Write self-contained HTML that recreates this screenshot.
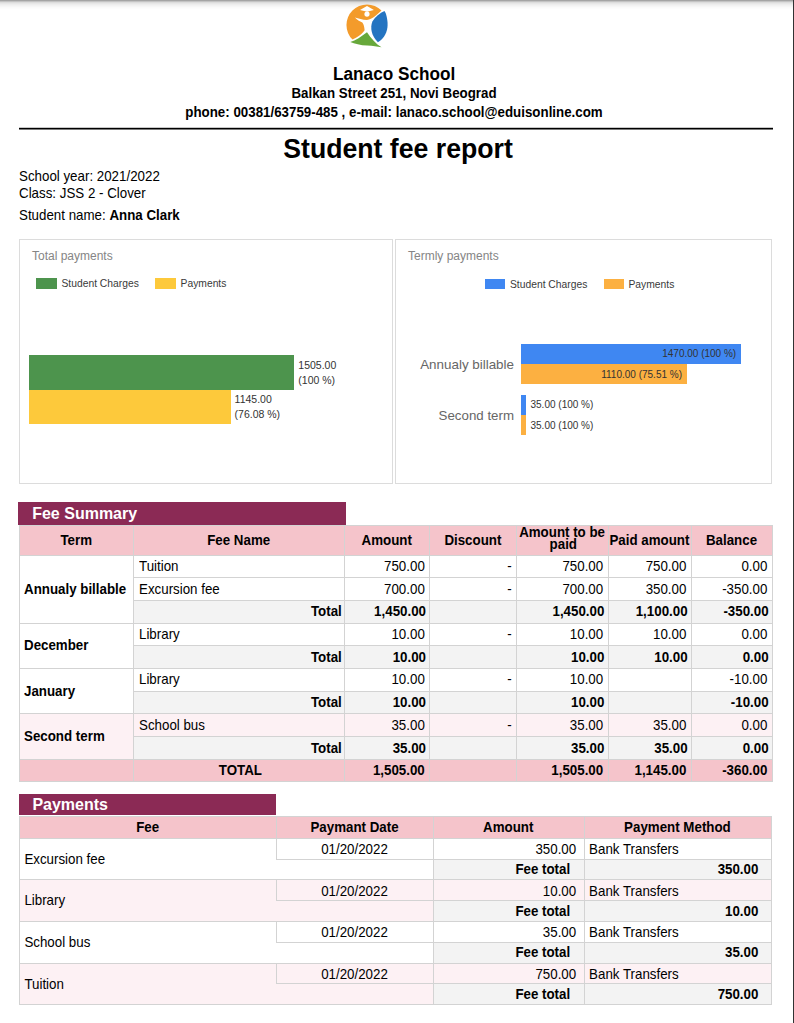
<!DOCTYPE html>
<html><head><meta charset="utf-8"><title>Student fee report</title>
<style>
html,body{margin:0;padding:0;}
body{width:794px;height:1023px;position:relative;overflow:hidden;background:#fff;font-family:"Liberation Sans", sans-serif;color:#000;}
b{font-weight:700;}
</style></head><body>
<div style="position:absolute;left:0px;top:0px;width:793px;height:1px;background:#a4a4a4;"></div>
<div style="position:absolute;left:0px;top:1px;width:793px;height:1px;background:#c3c3c3;"></div>
<div style="position:absolute;left:0px;top:2px;width:793px;height:1px;background:#dcdcdc;"></div>
<div style="position:absolute;left:0px;top:3px;width:793px;height:1px;background:#e6e6e6;"></div>
<div style="position:absolute;left:0px;top:4px;width:793px;height:1px;background:#ededed;"></div>
<div style="position:absolute;left:0px;top:5px;width:793px;height:1px;background:#f2f2f2;"></div>
<div style="position:absolute;left:0px;top:6px;width:793px;height:1px;background:#f6f6f6;"></div>
<div style="position:absolute;left:0px;top:7px;width:793px;height:1px;background:#fafafa;"></div>
<div style="position:absolute;left:0px;top:8px;width:793px;height:1px;background:#fcfcfc;"></div>
<div style="position:absolute;left:0px;top:9px;width:793px;height:1px;background:#fefefe;"></div>
<div style="position:absolute;left:793px;top:0px;width:1px;height:1023px;background:#313233;"></div>
<svg style="position:absolute;left:340px;top:0px" width="55" height="50" viewBox="0 0 55 50">
<path d="M41.5,10.5 A20.4,20.4 0 1 0 12.5,39.6 L16,37.8 C20,35.3 22.8,33 24.6,30.2 C24.3,27 23.8,24.5 22.3,22.6 C19.8,21.2 16.8,19.6 14.9,17.4 C18.5,18.6 22.5,19.6 27,19.9 C32.5,19.6 37.2,14.3 41.5,10.5 Z" fill="#f39b2b"/>
<path d="M44.5,11.1 C46.4,14 47.6,19.5 47.6,25 C47.6,32 44.2,38.4 37.9,42.2 C31.6,36.5 29.8,27.8 32.4,21.6 C35.4,16.6 39.8,13.2 44.5,11.1 Z" fill="#2474c1"/>
<path d="M10.3,41.9 C15.5,40.4 21.5,36.5 27,32.2 C31,38.3 36,44 41.5,47.2 C37,46.6 33,46 27.2,45.6 C20.5,45.3 14.5,43.3 10.3,41.9 Z" fill="#67a83b"/>
<circle cx="27" cy="14.1" r="2.6" fill="#fff"/>
<path d="M20,10.1 L27,5.9 L33.9,9.9 L27.1,11.8 Z" fill="#fff"/>
</svg>
<div style="position:absolute;left:94.20px;width:600px;text-align:center;top:65.94px;white-space:nowrap;line-height:17.2px;font-size:17.2px;transform:scaleY(1.05);transform-origin:0 14.56px;font-weight:700;">Lanaco School</div>
<div style="position:absolute;left:94.00px;width:600px;text-align:center;top:87.22px;white-space:nowrap;line-height:13.33px;font-size:13.33px;transform:scaleY(1.05);transform-origin:0 11.28px;font-weight:700;">Balkan Street 251, Novi Beograd</div>
<div style="position:absolute;left:94.00px;width:600px;text-align:center;top:106.22px;white-space:nowrap;line-height:13.33px;font-size:13.33px;transform:scaleY(1.05);transform-origin:0 11.28px;font-weight:700;">phone: 00381/63759-485 , e-mail: lanaco.school@eduisonline.com</div>
<div style="position:absolute;left:19px;top:127px;width:754px;height:1px;background:#c8c8c8;"></div>
<div style="position:absolute;left:19px;top:128px;width:754px;height:1px;background:#000;"></div>
<div style="position:absolute;left:19px;top:129px;width:754px;height:1px;background:#7a7a7a;"></div>
<div style="position:absolute;left:98.00px;width:600px;text-align:center;top:136.02px;white-space:nowrap;line-height:26.67px;font-size:26.67px;transform:scaleY(1.05);transform-origin:0 22.58px;font-weight:700;">Student fee report</div>
<div style="position:absolute;left:19.00px;top:169.92px;white-space:nowrap;line-height:13.33px;font-size:13.33px;transform:scaleY(1.05);transform-origin:0 11.28px;">School year: 2021/2022</div>
<div style="position:absolute;left:19.00px;top:187.12px;white-space:nowrap;line-height:13.33px;font-size:13.33px;transform:scaleY(1.05);transform-origin:0 11.28px;">Class: JSS 2 - Clover</div>
<div style="position:absolute;left:19.00px;top:209.42px;white-space:nowrap;line-height:13.33px;font-size:13.33px;transform:scaleY(1.05);transform-origin:0 11.28px;">Student name: <b>Anna Clark</b></div>
<div style="position:absolute;left:19px;top:239px;width:372px;height:243px;border:1px solid #dcdcdc"></div>
<div style="position:absolute;left:395px;top:239px;width:375px;height:243px;border:1px solid #dcdcdc"></div>
<div style="position:absolute;left:32.00px;top:249.54px;white-space:nowrap;line-height:12px;font-size:12px;color:#858585;">Total payments</div>
<div style="position:absolute;left:36px;top:278.3px;width:21px;height:10.5px;background:#4d944d;"></div>
<div style="position:absolute;left:61.50px;top:279.48px;white-space:nowrap;line-height:10.3px;font-size:10.3px;color:#3a3a3a;">Student Charges</div>
<div style="position:absolute;left:155.2px;top:278.3px;width:20.5px;height:10.5px;background:#fdc93b;"></div>
<div style="position:absolute;left:180.60px;top:279.48px;white-space:nowrap;line-height:10.3px;font-size:10.3px;color:#3a3a3a;">Payments</div>
<div style="position:absolute;left:29px;top:355.3px;width:265px;height:34.5px;background:#4d944d;"></div>
<div style="position:absolute;left:29px;top:389.8px;width:201.7px;height:34.4px;background:#fdc93b;"></div>
<div style="position:absolute;left:298.30px;top:360.01px;white-space:nowrap;line-height:10.5px;font-size:10.5px;color:#333;">1505.00</div>
<div style="position:absolute;left:298.30px;top:374.71px;white-space:nowrap;line-height:10.5px;font-size:10.5px;color:#333;">(100 %)</div>
<div style="position:absolute;left:234.60px;top:394.31px;white-space:nowrap;line-height:10.5px;font-size:10.5px;color:#333;">1145.00</div>
<div style="position:absolute;left:234.60px;top:409.11px;white-space:nowrap;line-height:10.5px;font-size:10.5px;color:#333;">(76.08 %)</div>
<div style="position:absolute;left:408.00px;top:249.54px;white-space:nowrap;line-height:12px;font-size:12px;color:#858585;">Termly payments</div>
<div style="position:absolute;left:484.8px;top:279.2px;width:20px;height:10px;background:#3f87f2;"></div>
<div style="position:absolute;left:510.00px;top:279.58px;white-space:nowrap;line-height:10.3px;font-size:10.3px;color:#3a3a3a;">Student Charges</div>
<div style="position:absolute;left:603.8px;top:279.2px;width:20px;height:10px;background:#fcb041;"></div>
<div style="position:absolute;left:628.50px;top:279.58px;white-space:nowrap;line-height:10.3px;font-size:10.3px;color:#3a3a3a;">Payments</div>
<div style="position:absolute;left:114.00px;width:400px;text-align:right;top:358.16px;white-space:nowrap;line-height:13.4px;font-size:13.4px;color:#666;">Annualy billable</div>
<div style="position:absolute;left:114.00px;width:400px;text-align:right;top:409.24px;white-space:nowrap;line-height:13.3px;font-size:13.3px;color:#666;">Second term</div>
<div style="position:absolute;left:521px;top:344.2px;width:219.6px;height:20.1px;background:#3f87f2;"></div>
<div style="position:absolute;left:521px;top:364.3px;width:165.8px;height:20.2px;background:#fcb041;"></div>
<div style="position:absolute;left:521px;top:395.1px;width:5px;height:19.9px;background:#3f87f2;"></div>
<div style="position:absolute;left:521px;top:415.0px;width:5px;height:20.4px;background:#fcb041;"></div>
<div style="position:absolute;left:336.20px;width:400px;text-align:right;top:349.34px;white-space:nowrap;line-height:10px;font-size:10px;color:#333;">1470.00 (100 %)</div>
<div style="position:absolute;left:282.00px;width:400px;text-align:right;top:369.74px;white-space:nowrap;line-height:10px;font-size:10px;color:#333;">1110.00 (75.51 %)</div>
<div style="position:absolute;left:530.50px;top:400.44px;white-space:nowrap;line-height:10px;font-size:10px;color:#333;">35.00 (100 %)</div>
<div style="position:absolute;left:530.50px;top:420.54px;white-space:nowrap;line-height:10px;font-size:10px;color:#333;">35.00 (100 %)</div>
<div style="position:absolute;left:18px;top:502px;width:327.6px;height:23px;background:#8b2a55;"></div>
<div style="position:absolute;left:32.20px;top:506.06px;white-space:nowrap;line-height:16px;font-size:16px;transform:scaleY(1.05);transform-origin:0 13.54px;font-weight:700;color:#fff;">Fee Summary</div>
<div style="position:absolute;left:19px;top:525px;width:753px;height:30px;background:#f5c4cb;"></div>
<div style="position:absolute;left:133.4px;top:599.96px;width:638.6px;height:22.68px;background:#f3f3f3;"></div>
<div style="position:absolute;left:133.4px;top:645.32px;width:638.6px;height:22.68px;background:#f3f3f3;"></div>
<div style="position:absolute;left:133.4px;top:690.6800000000001px;width:638.6px;height:22.68px;background:#f3f3f3;"></div>
<div style="position:absolute;left:133.4px;top:736.04px;width:638.6px;height:22.68px;background:#f3f3f3;"></div>
<div style="position:absolute;left:19px;top:713.36px;width:114.4px;height:45.36px;background:#fdf1f4;"></div>
<div style="position:absolute;left:133.4px;top:713.36px;width:638.6px;height:22.68px;background:#fdf1f4;"></div>
<div style="position:absolute;left:19px;top:758.72px;width:753px;height:22.68px;background:#f5c4cb;"></div>
<div style="position:absolute;left:19px;top:525px;width:753px;height:1px;background:#d3d3d3;"></div>
<div style="position:absolute;left:19px;top:554.6px;width:753px;height:1px;background:#d3d3d3;"></div>
<div style="position:absolute;left:133.4px;top:577.28px;width:638.6px;height:1px;background:#d3d3d3;"></div>
<div style="position:absolute;left:133.4px;top:599.96px;width:638.6px;height:1px;background:#d3d3d3;"></div>
<div style="position:absolute;left:19px;top:622.64px;width:753px;height:1px;background:#d3d3d3;"></div>
<div style="position:absolute;left:133.4px;top:645.32px;width:638.6px;height:1px;background:#d3d3d3;"></div>
<div style="position:absolute;left:19px;top:668.0px;width:753px;height:1px;background:#d3d3d3;"></div>
<div style="position:absolute;left:133.4px;top:690.6800000000001px;width:638.6px;height:1px;background:#d3d3d3;"></div>
<div style="position:absolute;left:19px;top:713.36px;width:753px;height:1px;background:#d3d3d3;"></div>
<div style="position:absolute;left:133.4px;top:736.04px;width:638.6px;height:1px;background:#d3d3d3;"></div>
<div style="position:absolute;left:19px;top:758.72px;width:753px;height:1px;background:#d3d3d3;"></div>
<div style="position:absolute;left:19px;top:781.4000000000001px;width:753px;height:1px;background:#d3d3d3;"></div>
<div style="position:absolute;left:19px;top:525px;width:1px;height:257.4000000000001px;background:#d3d3d3;"></div>
<div style="position:absolute;left:133.4px;top:525px;width:1px;height:257.4000000000001px;background:#d3d3d3;"></div>
<div style="position:absolute;left:344px;top:525px;width:1px;height:257.4000000000001px;background:#d3d3d3;"></div>
<div style="position:absolute;left:429.4px;top:525px;width:1px;height:257.4000000000001px;background:#d3d3d3;"></div>
<div style="position:absolute;left:516.4px;top:525px;width:1px;height:257.4000000000001px;background:#d3d3d3;"></div>
<div style="position:absolute;left:607.8px;top:525px;width:1px;height:257.4000000000001px;background:#d3d3d3;"></div>
<div style="position:absolute;left:691px;top:525px;width:1px;height:257.4000000000001px;background:#d3d3d3;"></div>
<div style="position:absolute;left:772px;top:525px;width:1px;height:257.4000000000001px;background:#d3d3d3;"></div>
<div style="position:absolute;left:-223.80px;width:600px;text-align:center;top:533.72px;white-space:nowrap;line-height:13.33px;font-size:13.33px;transform:scaleY(1.05);transform-origin:0 11.28px;font-weight:700;">Term</div>
<div style="position:absolute;left:-61.30px;width:600px;text-align:center;top:533.72px;white-space:nowrap;line-height:13.33px;font-size:13.33px;transform:scaleY(1.05);transform-origin:0 11.28px;font-weight:700;">Fee Name</div>
<div style="position:absolute;left:86.70px;width:600px;text-align:center;top:533.72px;white-space:nowrap;line-height:13.33px;font-size:13.33px;transform:scaleY(1.05);transform-origin:0 11.28px;font-weight:700;">Amount</div>
<div style="position:absolute;left:172.90px;width:600px;text-align:center;top:533.72px;white-space:nowrap;line-height:13.33px;font-size:13.33px;transform:scaleY(1.05);transform-origin:0 11.28px;font-weight:700;">Discount</div>
<div style="position:absolute;left:349.40px;width:600px;text-align:center;top:533.72px;white-space:nowrap;line-height:13.33px;font-size:13.33px;transform:scaleY(1.05);transform-origin:0 11.28px;font-weight:700;">Paid amount</div>
<div style="position:absolute;left:431.50px;width:600px;text-align:center;top:533.72px;white-space:nowrap;line-height:13.33px;font-size:13.33px;transform:scaleY(1.05);transform-origin:0 11.28px;font-weight:700;">Balance</div>
<div style="position:absolute;left:262.10px;width:600px;text-align:center;top:525.52px;white-space:nowrap;line-height:13.33px;font-size:13.33px;transform:scaleY(1.05);transform-origin:0 11.28px;font-weight:700;">Amount to be</div>
<div style="position:absolute;left:263.30px;width:600px;text-align:center;top:538.32px;white-space:nowrap;line-height:13.33px;font-size:13.33px;transform:scaleY(1.05);transform-origin:0 11.28px;font-weight:700;">paid</div>
<div style="position:absolute;left:139.00px;top:560.06px;white-space:nowrap;line-height:13.33px;font-size:13.33px;transform:scaleY(1.05);transform-origin:0 11.28px;">Tuition</div>
<div style="position:absolute;left:24.80px;width:400px;text-align:right;top:560.06px;white-space:nowrap;line-height:13.33px;font-size:13.33px;transform:scaleY(1.05);transform-origin:0 11.28px;">750.00</div>
<div style="position:absolute;left:111.80px;width:400px;text-align:right;top:560.06px;white-space:nowrap;line-height:13.33px;font-size:13.33px;transform:scaleY(1.05);transform-origin:0 11.28px;">-</div>
<div style="position:absolute;left:203.20px;width:400px;text-align:right;top:560.06px;white-space:nowrap;line-height:13.33px;font-size:13.33px;transform:scaleY(1.05);transform-origin:0 11.28px;">750.00</div>
<div style="position:absolute;left:286.40px;width:400px;text-align:right;top:560.06px;white-space:nowrap;line-height:13.33px;font-size:13.33px;transform:scaleY(1.05);transform-origin:0 11.28px;">750.00</div>
<div style="position:absolute;left:367.40px;width:400px;text-align:right;top:560.06px;white-space:nowrap;line-height:13.33px;font-size:13.33px;transform:scaleY(1.05);transform-origin:0 11.28px;">0.00</div>
<div style="position:absolute;left:139.00px;top:582.74px;white-space:nowrap;line-height:13.33px;font-size:13.33px;transform:scaleY(1.05);transform-origin:0 11.28px;">Excursion fee</div>
<div style="position:absolute;left:24.80px;width:400px;text-align:right;top:582.74px;white-space:nowrap;line-height:13.33px;font-size:13.33px;transform:scaleY(1.05);transform-origin:0 11.28px;">700.00</div>
<div style="position:absolute;left:111.80px;width:400px;text-align:right;top:582.74px;white-space:nowrap;line-height:13.33px;font-size:13.33px;transform:scaleY(1.05);transform-origin:0 11.28px;">-</div>
<div style="position:absolute;left:203.20px;width:400px;text-align:right;top:582.74px;white-space:nowrap;line-height:13.33px;font-size:13.33px;transform:scaleY(1.05);transform-origin:0 11.28px;">700.00</div>
<div style="position:absolute;left:286.40px;width:400px;text-align:right;top:582.74px;white-space:nowrap;line-height:13.33px;font-size:13.33px;transform:scaleY(1.05);transform-origin:0 11.28px;">350.00</div>
<div style="position:absolute;left:367.40px;width:400px;text-align:right;top:582.74px;white-space:nowrap;line-height:13.33px;font-size:13.33px;transform:scaleY(1.05);transform-origin:0 11.28px;">-350.00</div>
<div style="position:absolute;left:-58.20px;width:400px;text-align:right;top:605.42px;white-space:nowrap;line-height:13.33px;font-size:13.33px;transform:scaleY(1.05);transform-origin:0 11.28px;font-weight:700;">Total</div>
<div style="position:absolute;left:26.00px;width:400px;text-align:right;top:605.42px;white-space:nowrap;line-height:13.33px;font-size:13.33px;transform:scaleY(1.05);transform-origin:0 11.28px;font-weight:700;">1,450.00</div>
<div style="position:absolute;left:204.40px;width:400px;text-align:right;top:605.42px;white-space:nowrap;line-height:13.33px;font-size:13.33px;transform:scaleY(1.05);transform-origin:0 11.28px;font-weight:700;">1,450.00</div>
<div style="position:absolute;left:287.60px;width:400px;text-align:right;top:605.42px;white-space:nowrap;line-height:13.33px;font-size:13.33px;transform:scaleY(1.05);transform-origin:0 11.28px;font-weight:700;">1,100.00</div>
<div style="position:absolute;left:368.60px;width:400px;text-align:right;top:605.42px;white-space:nowrap;line-height:13.33px;font-size:13.33px;transform:scaleY(1.05);transform-origin:0 11.28px;font-weight:700;">-350.00</div>
<div style="position:absolute;left:139.00px;top:628.10px;white-space:nowrap;line-height:13.33px;font-size:13.33px;transform:scaleY(1.05);transform-origin:0 11.28px;">Library</div>
<div style="position:absolute;left:24.80px;width:400px;text-align:right;top:628.10px;white-space:nowrap;line-height:13.33px;font-size:13.33px;transform:scaleY(1.05);transform-origin:0 11.28px;">10.00</div>
<div style="position:absolute;left:111.80px;width:400px;text-align:right;top:628.10px;white-space:nowrap;line-height:13.33px;font-size:13.33px;transform:scaleY(1.05);transform-origin:0 11.28px;">-</div>
<div style="position:absolute;left:203.20px;width:400px;text-align:right;top:628.10px;white-space:nowrap;line-height:13.33px;font-size:13.33px;transform:scaleY(1.05);transform-origin:0 11.28px;">10.00</div>
<div style="position:absolute;left:286.40px;width:400px;text-align:right;top:628.10px;white-space:nowrap;line-height:13.33px;font-size:13.33px;transform:scaleY(1.05);transform-origin:0 11.28px;">10.00</div>
<div style="position:absolute;left:367.40px;width:400px;text-align:right;top:628.10px;white-space:nowrap;line-height:13.33px;font-size:13.33px;transform:scaleY(1.05);transform-origin:0 11.28px;">0.00</div>
<div style="position:absolute;left:-58.20px;width:400px;text-align:right;top:650.78px;white-space:nowrap;line-height:13.33px;font-size:13.33px;transform:scaleY(1.05);transform-origin:0 11.28px;font-weight:700;">Total</div>
<div style="position:absolute;left:26.00px;width:400px;text-align:right;top:650.78px;white-space:nowrap;line-height:13.33px;font-size:13.33px;transform:scaleY(1.05);transform-origin:0 11.28px;font-weight:700;">10.00</div>
<div style="position:absolute;left:204.40px;width:400px;text-align:right;top:650.78px;white-space:nowrap;line-height:13.33px;font-size:13.33px;transform:scaleY(1.05);transform-origin:0 11.28px;font-weight:700;">10.00</div>
<div style="position:absolute;left:287.60px;width:400px;text-align:right;top:650.78px;white-space:nowrap;line-height:13.33px;font-size:13.33px;transform:scaleY(1.05);transform-origin:0 11.28px;font-weight:700;">10.00</div>
<div style="position:absolute;left:368.60px;width:400px;text-align:right;top:650.78px;white-space:nowrap;line-height:13.33px;font-size:13.33px;transform:scaleY(1.05);transform-origin:0 11.28px;font-weight:700;">0.00</div>
<div style="position:absolute;left:139.00px;top:673.46px;white-space:nowrap;line-height:13.33px;font-size:13.33px;transform:scaleY(1.05);transform-origin:0 11.28px;">Library</div>
<div style="position:absolute;left:24.80px;width:400px;text-align:right;top:673.46px;white-space:nowrap;line-height:13.33px;font-size:13.33px;transform:scaleY(1.05);transform-origin:0 11.28px;">10.00</div>
<div style="position:absolute;left:111.80px;width:400px;text-align:right;top:673.46px;white-space:nowrap;line-height:13.33px;font-size:13.33px;transform:scaleY(1.05);transform-origin:0 11.28px;">-</div>
<div style="position:absolute;left:203.20px;width:400px;text-align:right;top:673.46px;white-space:nowrap;line-height:13.33px;font-size:13.33px;transform:scaleY(1.05);transform-origin:0 11.28px;">10.00</div>
<div style="position:absolute;left:367.40px;width:400px;text-align:right;top:673.46px;white-space:nowrap;line-height:13.33px;font-size:13.33px;transform:scaleY(1.05);transform-origin:0 11.28px;">-10.00</div>
<div style="position:absolute;left:-58.20px;width:400px;text-align:right;top:696.14px;white-space:nowrap;line-height:13.33px;font-size:13.33px;transform:scaleY(1.05);transform-origin:0 11.28px;font-weight:700;">Total</div>
<div style="position:absolute;left:26.00px;width:400px;text-align:right;top:696.14px;white-space:nowrap;line-height:13.33px;font-size:13.33px;transform:scaleY(1.05);transform-origin:0 11.28px;font-weight:700;">10.00</div>
<div style="position:absolute;left:204.40px;width:400px;text-align:right;top:696.14px;white-space:nowrap;line-height:13.33px;font-size:13.33px;transform:scaleY(1.05);transform-origin:0 11.28px;font-weight:700;">10.00</div>
<div style="position:absolute;left:368.60px;width:400px;text-align:right;top:696.14px;white-space:nowrap;line-height:13.33px;font-size:13.33px;transform:scaleY(1.05);transform-origin:0 11.28px;font-weight:700;">-10.00</div>
<div style="position:absolute;left:139.00px;top:718.82px;white-space:nowrap;line-height:13.33px;font-size:13.33px;transform:scaleY(1.05);transform-origin:0 11.28px;">School bus</div>
<div style="position:absolute;left:24.80px;width:400px;text-align:right;top:718.82px;white-space:nowrap;line-height:13.33px;font-size:13.33px;transform:scaleY(1.05);transform-origin:0 11.28px;">35.00</div>
<div style="position:absolute;left:111.80px;width:400px;text-align:right;top:718.82px;white-space:nowrap;line-height:13.33px;font-size:13.33px;transform:scaleY(1.05);transform-origin:0 11.28px;">-</div>
<div style="position:absolute;left:203.20px;width:400px;text-align:right;top:718.82px;white-space:nowrap;line-height:13.33px;font-size:13.33px;transform:scaleY(1.05);transform-origin:0 11.28px;">35.00</div>
<div style="position:absolute;left:286.40px;width:400px;text-align:right;top:718.82px;white-space:nowrap;line-height:13.33px;font-size:13.33px;transform:scaleY(1.05);transform-origin:0 11.28px;">35.00</div>
<div style="position:absolute;left:367.40px;width:400px;text-align:right;top:718.82px;white-space:nowrap;line-height:13.33px;font-size:13.33px;transform:scaleY(1.05);transform-origin:0 11.28px;">0.00</div>
<div style="position:absolute;left:-58.20px;width:400px;text-align:right;top:741.50px;white-space:nowrap;line-height:13.33px;font-size:13.33px;transform:scaleY(1.05);transform-origin:0 11.28px;font-weight:700;">Total</div>
<div style="position:absolute;left:26.00px;width:400px;text-align:right;top:741.50px;white-space:nowrap;line-height:13.33px;font-size:13.33px;transform:scaleY(1.05);transform-origin:0 11.28px;font-weight:700;">35.00</div>
<div style="position:absolute;left:204.40px;width:400px;text-align:right;top:741.50px;white-space:nowrap;line-height:13.33px;font-size:13.33px;transform:scaleY(1.05);transform-origin:0 11.28px;font-weight:700;">35.00</div>
<div style="position:absolute;left:287.60px;width:400px;text-align:right;top:741.50px;white-space:nowrap;line-height:13.33px;font-size:13.33px;transform:scaleY(1.05);transform-origin:0 11.28px;font-weight:700;">35.00</div>
<div style="position:absolute;left:368.60px;width:400px;text-align:right;top:741.50px;white-space:nowrap;line-height:13.33px;font-size:13.33px;transform:scaleY(1.05);transform-origin:0 11.28px;font-weight:700;">0.00</div>
<div style="position:absolute;left:24.00px;top:582.74px;white-space:nowrap;line-height:13.33px;font-size:13.33px;transform:scaleY(1.05);transform-origin:0 11.28px;font-weight:700;">Annualy billable</div>
<div style="position:absolute;left:24.00px;top:639.44px;white-space:nowrap;line-height:13.33px;font-size:13.33px;transform:scaleY(1.05);transform-origin:0 11.28px;font-weight:700;">December</div>
<div style="position:absolute;left:24.00px;top:684.80px;white-space:nowrap;line-height:13.33px;font-size:13.33px;transform:scaleY(1.05);transform-origin:0 11.28px;font-weight:700;">January</div>
<div style="position:absolute;left:24.00px;top:730.16px;white-space:nowrap;line-height:13.33px;font-size:13.33px;transform:scaleY(1.05);transform-origin:0 11.28px;font-weight:700;">Second term</div>
<div style="position:absolute;left:-59.60px;width:600px;text-align:center;top:764.18px;white-space:nowrap;line-height:13.33px;font-size:13.33px;transform:scaleY(1.05);transform-origin:0 11.28px;font-weight:700;">TOTAL</div>
<div style="position:absolute;left:24.80px;width:400px;text-align:right;top:764.18px;white-space:nowrap;line-height:13.33px;font-size:13.33px;transform:scaleY(1.05);transform-origin:0 11.28px;font-weight:700;">1,505.00</div>
<div style="position:absolute;left:203.20px;width:400px;text-align:right;top:764.18px;white-space:nowrap;line-height:13.33px;font-size:13.33px;transform:scaleY(1.05);transform-origin:0 11.28px;font-weight:700;">1,505.00</div>
<div style="position:absolute;left:286.40px;width:400px;text-align:right;top:764.18px;white-space:nowrap;line-height:13.33px;font-size:13.33px;transform:scaleY(1.05);transform-origin:0 11.28px;font-weight:700;">1,145.00</div>
<div style="position:absolute;left:367.40px;width:400px;text-align:right;top:764.18px;white-space:nowrap;line-height:13.33px;font-size:13.33px;transform:scaleY(1.05);transform-origin:0 11.28px;font-weight:700;">-360.00</div>
<div style="position:absolute;left:19.4px;top:794px;width:257px;height:20.8px;background:#8b2a55;"></div>
<div style="position:absolute;left:32.40px;top:797.36px;white-space:nowrap;line-height:16px;font-size:16px;transform:scaleY(1.05);transform-origin:0 13.54px;font-weight:700;color:#fff;">Payments</div>
<div style="position:absolute;left:19px;top:815.5px;width:752.2px;height:22.299999999999955px;background:#f5c4cb;"></div>
<div style="position:absolute;left:19px;top:837.8px;width:752.2px;height:41.60000000000002px;background:#fff;"></div>
<div style="position:absolute;left:432.7px;top:858.5999999999999px;width:338.50000000000006px;height:20.8px;background:#f3f3f3;"></div>
<div style="position:absolute;left:19px;top:837.8px;width:752.2px;height:1px;background:#d3d3d3;"></div>
<div style="position:absolute;left:276.3px;top:858.5999999999999px;width:157.39999999999998px;height:1px;background:#d3d3d3;"></div>
<div style="position:absolute;left:432.7px;top:858.5999999999999px;width:338.50000000000006px;height:1px;background:#d3d3d3;"></div>
<div style="position:absolute;left:276.3px;top:837.8px;width:1px;height:20.799999999999955px;background:#d3d3d3;"></div>
<div style="position:absolute;left:24.40px;top:852.72px;white-space:nowrap;line-height:13.33px;font-size:13.33px;transform:scaleY(1.05);transform-origin:0 11.28px;">Excursion fee</div>
<div style="position:absolute;left:54.50px;width:600px;text-align:center;top:842.92px;white-space:nowrap;line-height:13.33px;font-size:13.33px;transform:scaleY(1.05);transform-origin:0 11.28px;">01/20/2022</div>
<div style="position:absolute;left:176.20px;width:400px;text-align:right;top:842.92px;white-space:nowrap;line-height:13.33px;font-size:13.33px;transform:scaleY(1.05);transform-origin:0 11.28px;">350.00</div>
<div style="position:absolute;left:589.10px;top:842.92px;white-space:nowrap;line-height:13.33px;font-size:13.33px;transform:scaleY(1.05);transform-origin:0 11.28px;">Bank Transfers</div>
<div style="position:absolute;left:170.20px;width:400px;text-align:right;top:863.02px;white-space:nowrap;line-height:13.33px;font-size:13.33px;transform:scaleY(1.05);transform-origin:0 11.28px;font-weight:700;">Fee total</div>
<div style="position:absolute;left:358.40px;width:400px;text-align:right;top:863.02px;white-space:nowrap;line-height:13.33px;font-size:13.33px;transform:scaleY(1.05);transform-origin:0 11.28px;font-weight:700;">350.00</div>
<div style="position:absolute;left:19px;top:879.4px;width:752.2px;height:41.60000000000002px;background:#fdf1f4;"></div>
<div style="position:absolute;left:432.7px;top:900.1999999999999px;width:338.50000000000006px;height:20.8px;background:#f3f3f3;"></div>
<div style="position:absolute;left:19px;top:879.4px;width:752.2px;height:1px;background:#d3d3d3;"></div>
<div style="position:absolute;left:276.3px;top:900.1999999999999px;width:157.39999999999998px;height:1px;background:#d3d3d3;"></div>
<div style="position:absolute;left:432.7px;top:900.1999999999999px;width:338.50000000000006px;height:1px;background:#d3d3d3;"></div>
<div style="position:absolute;left:276.3px;top:879.4px;width:1px;height:20.799999999999955px;background:#d3d3d3;"></div>
<div style="position:absolute;left:24.40px;top:894.32px;white-space:nowrap;line-height:13.33px;font-size:13.33px;transform:scaleY(1.05);transform-origin:0 11.28px;">Library</div>
<div style="position:absolute;left:54.50px;width:600px;text-align:center;top:884.52px;white-space:nowrap;line-height:13.33px;font-size:13.33px;transform:scaleY(1.05);transform-origin:0 11.28px;">01/20/2022</div>
<div style="position:absolute;left:176.20px;width:400px;text-align:right;top:884.52px;white-space:nowrap;line-height:13.33px;font-size:13.33px;transform:scaleY(1.05);transform-origin:0 11.28px;">10.00</div>
<div style="position:absolute;left:589.10px;top:884.52px;white-space:nowrap;line-height:13.33px;font-size:13.33px;transform:scaleY(1.05);transform-origin:0 11.28px;">Bank Transfers</div>
<div style="position:absolute;left:170.20px;width:400px;text-align:right;top:904.62px;white-space:nowrap;line-height:13.33px;font-size:13.33px;transform:scaleY(1.05);transform-origin:0 11.28px;font-weight:700;">Fee total</div>
<div style="position:absolute;left:358.40px;width:400px;text-align:right;top:904.62px;white-space:nowrap;line-height:13.33px;font-size:13.33px;transform:scaleY(1.05);transform-origin:0 11.28px;font-weight:700;">10.00</div>
<div style="position:absolute;left:19px;top:921.0px;width:752.2px;height:41.59999999999991px;background:#fff;"></div>
<div style="position:absolute;left:432.7px;top:941.8px;width:338.50000000000006px;height:20.8px;background:#f3f3f3;"></div>
<div style="position:absolute;left:19px;top:921.0px;width:752.2px;height:1px;background:#d3d3d3;"></div>
<div style="position:absolute;left:276.3px;top:941.8px;width:157.39999999999998px;height:1px;background:#d3d3d3;"></div>
<div style="position:absolute;left:432.7px;top:941.8px;width:338.50000000000006px;height:1px;background:#d3d3d3;"></div>
<div style="position:absolute;left:276.3px;top:921.0px;width:1px;height:20.799999999999955px;background:#d3d3d3;"></div>
<div style="position:absolute;left:24.40px;top:935.92px;white-space:nowrap;line-height:13.33px;font-size:13.33px;transform:scaleY(1.05);transform-origin:0 11.28px;">School bus</div>
<div style="position:absolute;left:54.50px;width:600px;text-align:center;top:926.12px;white-space:nowrap;line-height:13.33px;font-size:13.33px;transform:scaleY(1.05);transform-origin:0 11.28px;">01/20/2022</div>
<div style="position:absolute;left:176.20px;width:400px;text-align:right;top:926.12px;white-space:nowrap;line-height:13.33px;font-size:13.33px;transform:scaleY(1.05);transform-origin:0 11.28px;">35.00</div>
<div style="position:absolute;left:589.10px;top:926.12px;white-space:nowrap;line-height:13.33px;font-size:13.33px;transform:scaleY(1.05);transform-origin:0 11.28px;">Bank Transfers</div>
<div style="position:absolute;left:170.20px;width:400px;text-align:right;top:946.22px;white-space:nowrap;line-height:13.33px;font-size:13.33px;transform:scaleY(1.05);transform-origin:0 11.28px;font-weight:700;">Fee total</div>
<div style="position:absolute;left:358.40px;width:400px;text-align:right;top:946.22px;white-space:nowrap;line-height:13.33px;font-size:13.33px;transform:scaleY(1.05);transform-origin:0 11.28px;font-weight:700;">35.00</div>
<div style="position:absolute;left:19px;top:962.5999999999999px;width:752.2px;height:41.60000000000002px;background:#fdf1f4;"></div>
<div style="position:absolute;left:432.7px;top:983.4px;width:338.50000000000006px;height:20.8px;background:#f3f3f3;"></div>
<div style="position:absolute;left:19px;top:962.5999999999999px;width:752.2px;height:1px;background:#d3d3d3;"></div>
<div style="position:absolute;left:276.3px;top:983.4px;width:157.39999999999998px;height:1px;background:#d3d3d3;"></div>
<div style="position:absolute;left:432.7px;top:983.4px;width:338.50000000000006px;height:1px;background:#d3d3d3;"></div>
<div style="position:absolute;left:276.3px;top:962.5999999999999px;width:1px;height:20.800000000000068px;background:#d3d3d3;"></div>
<div style="position:absolute;left:24.40px;top:977.52px;white-space:nowrap;line-height:13.33px;font-size:13.33px;transform:scaleY(1.05);transform-origin:0 11.28px;">Tuition</div>
<div style="position:absolute;left:54.50px;width:600px;text-align:center;top:967.72px;white-space:nowrap;line-height:13.33px;font-size:13.33px;transform:scaleY(1.05);transform-origin:0 11.28px;">01/20/2022</div>
<div style="position:absolute;left:176.20px;width:400px;text-align:right;top:967.72px;white-space:nowrap;line-height:13.33px;font-size:13.33px;transform:scaleY(1.05);transform-origin:0 11.28px;">750.00</div>
<div style="position:absolute;left:589.10px;top:967.72px;white-space:nowrap;line-height:13.33px;font-size:13.33px;transform:scaleY(1.05);transform-origin:0 11.28px;">Bank Transfers</div>
<div style="position:absolute;left:170.20px;width:400px;text-align:right;top:987.82px;white-space:nowrap;line-height:13.33px;font-size:13.33px;transform:scaleY(1.05);transform-origin:0 11.28px;font-weight:700;">Fee total</div>
<div style="position:absolute;left:358.40px;width:400px;text-align:right;top:987.82px;white-space:nowrap;line-height:13.33px;font-size:13.33px;transform:scaleY(1.05);transform-origin:0 11.28px;font-weight:700;">750.00</div>
<div style="position:absolute;left:19px;top:815.5px;width:752.2px;height:1px;background:#d3d3d3;"></div>
<div style="position:absolute;left:19px;top:837.8px;width:752.2px;height:1px;background:#d3d3d3;"></div>
<div style="position:absolute;left:19px;top:1004.1999999999999px;width:752.2px;height:1px;background:#d3d3d3;"></div>
<div style="position:absolute;left:19px;top:815.5px;width:1px;height:189.69999999999993px;background:#d3d3d3;"></div>
<div style="position:absolute;left:276.3px;top:815.5px;width:1px;height:22.299999999999955px;background:#d3d3d3;"></div>
<div style="position:absolute;left:432.7px;top:815.5px;width:1px;height:189.69999999999993px;background:#d3d3d3;"></div>
<div style="position:absolute;left:583.7px;top:815.5px;width:1px;height:189.69999999999993px;background:#d3d3d3;"></div>
<div style="position:absolute;left:771.2px;top:815.5px;width:1px;height:189.69999999999993px;background:#d3d3d3;"></div>
<div style="position:absolute;left:-152.35px;width:600px;text-align:center;top:820.72px;white-space:nowrap;line-height:13.33px;font-size:13.33px;transform:scaleY(1.05);transform-origin:0 11.28px;font-weight:700;">Fee</div>
<div style="position:absolute;left:54.50px;width:600px;text-align:center;top:820.72px;white-space:nowrap;line-height:13.33px;font-size:13.33px;transform:scaleY(1.05);transform-origin:0 11.28px;font-weight:700;">Paymant Date</div>
<div style="position:absolute;left:208.20px;width:600px;text-align:center;top:820.72px;white-space:nowrap;line-height:13.33px;font-size:13.33px;transform:scaleY(1.05);transform-origin:0 11.28px;font-weight:700;">Amount</div>
<div style="position:absolute;left:377.45px;width:600px;text-align:center;top:820.72px;white-space:nowrap;line-height:13.33px;font-size:13.33px;transform:scaleY(1.05);transform-origin:0 11.28px;font-weight:700;">Payment Method</div>
</body></html>
